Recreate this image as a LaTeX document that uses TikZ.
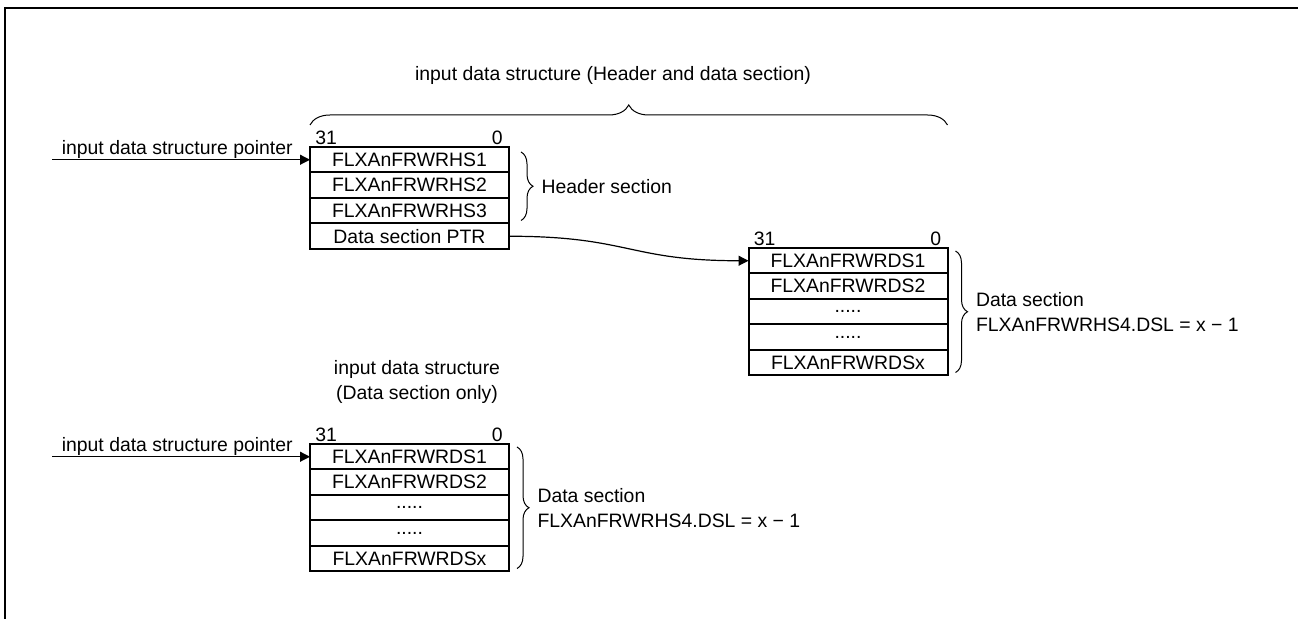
\documentclass[tikz,border=0pt]{standalone}
\usepackage{fontspec}
\setmainfont{Liberation Sans}
\usetikzlibrary{arrows.meta,positioning,calc,decorations.pathreplacing}

\begin{document}
\begin{tikzpicture}[
  x=0.5pt, y=-0.5pt,
  node distance=0pt,
  cell/.style={rectangle,draw,line width=0.5pt,minimum width=99pt,minimum height=12.25pt,inner sep=0pt,font=\fontsize{9.7}{12}\selectfont},
  lbl/.style={inner sep=0pt,font=\fontsize{9.7}{12.5}\selectfont},
  bitno/.style={inner sep=1pt,font=\fontsize{9.7}{12}\selectfont},
  outline/.style={line width=1pt},
  edge/.style={-{Triangle[length=5pt,width=5pt]},line width=0.6pt},
  brc/.style={decorate,decoration={brace,amplitude=6pt},line width=0.5pt}]
\useasboundingbox (0,0) rectangle (1298,619);
\draw[line width=1pt] (4.5,619) -- (4.5,8) -- (1298,8);

% header + data section structure
\node[cell,anchor=north] (hs1) at (409.5,147) {FLXAnFRWRHS1};
\node[cell,below=of hs1] (hs2) {FLXAnFRWRHS2};
\node[cell,below=of hs2] (hs3) {FLXAnFRWRHS3};
\node[cell,below=of hs3] (hsp) {Data section PTR};
\draw[outline] (hs1.north west) rectangle (hsp.south east);
\node[bitno,anchor=south west,xshift=1.5pt] (hmsb) at (hs1.north west) {31};
\node[bitno,anchor=south east,xshift=-2pt] (hlsb) at (hs1.north east) {0};

\coordinate (hsrc) at ($(hs1.west)+(-258,0)$);
\draw[edge] (hsrc) -- (hs1.west);
\node[lbl,anchor=base east] (hptr) at ($(hs1.west)+(-17,-5)$) {input data structure pointer};

\draw[brc] ($(hs1.north east)+(12,5)$) -- ($(hs3.south east)+(12,-3)$)
  node[midway,lbl,right=10pt] (hsec) {Header section};

% data section of the first structure
\node[cell,anchor=north] (ds1) at (848,248) {FLXAnFRWRDS1};
\node[cell,below=of ds1] (ds2) {FLXAnFRWRDS2};
\node[cell,below=of ds2] (dd1) {.....};
\node[cell,below=of dd1] (dd2) {.....};
\node[cell,below=of dd2] (dsx) {FLXAnFRWRDSx};
\draw[outline] (ds1.north west) rectangle (dsx.south east);
\node[bitno,anchor=south west,xshift=1.5pt] (dmsb) at (ds1.north west) {31};
\node[bitno,anchor=south east,xshift=-2pt] (dlsb) at (ds1.north east) {0};

\draw[edge] (hsp.east) .. controls +(120,0) and +(-120,0) .. (ds1.west);

\draw[brc] ($(ds1.north east)+(8,3)$) -- ($(dsx.south east)+(8,-3)$)
  node[midway,lbl,right=10pt,align=left] (dsec) {Data section\\FLXAnFRWRHS4.DSL = x − 1};

% top brace over the whole structure
\coordinate (tbl) at ($(hs1.north west)+(0,-22)$);
\coordinate (tbr) at (tbl -| ds1.north east);
\draw[brc,decoration={amplitude=10pt}] (tbl) -- (tbr);
\node[lbl] (toplbl) at (613,75) {input data structure (Header and data section)};

% data section only structure
\node[lbl,align=center] (solbl) at (417,382) {input data structure\\(Data section only)};
\node[cell,anchor=north] (os1) at (409.5,444) {FLXAnFRWRDS1};
\node[cell,below=of os1] (os2) {FLXAnFRWRDS2};
\node[cell,below=of os2] (od1) {.....};
\node[cell,below=of od1] (od2) {.....};
\node[cell,below=of od2] (osx) {FLXAnFRWRDSx};
\draw[outline] (os1.north west) rectangle (osx.south east);
\node[bitno,anchor=south west,xshift=1.5pt] (omsb) at (os1.north west) {31};
\node[bitno,anchor=south east,xshift=-2pt] (olsb) at (os1.north east) {0};

\coordinate (osrc) at ($(os1.west)+(-258,0)$);
\draw[edge] (osrc) -- (os1.west);
\node[lbl,anchor=base east] (optr) at ($(os1.west)+(-17,-5)$) {input data structure pointer};

\draw[brc] ($(os1.north east)+(8,3)$) -- ($(osx.south east)+(8,-3)$)
  node[midway,lbl,right=10pt,align=left] (osec) {Data section\\FLXAnFRWRHS4.DSL = x − 1};
\end{tikzpicture}
\end{document}
